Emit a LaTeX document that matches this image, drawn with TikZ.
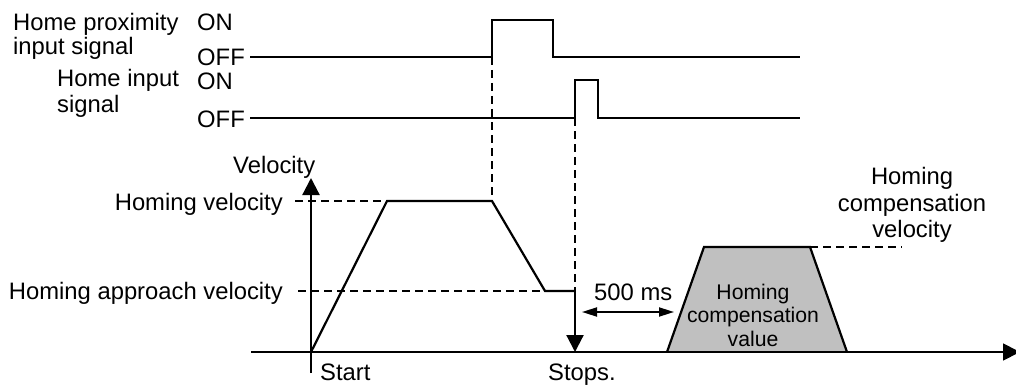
\documentclass[tikz,border=0pt]{standalone}
\usepackage{fontspec}
\setmainfont{Liberation Sans}
\usetikzlibrary{arrows.meta}
\definecolor{trapgray}{RGB}{192,192,192}
\begin{document}
\begin{tikzpicture}[x=1pt,y=-1pt,
  sig/.style={line width=2.2pt, line join=miter},
  axisline/.style={line width=1.8pt},
  guide/.style={line width=1.7pt, dash pattern=on 8pt off 5pt},
  lbl/.style={font=\fontsize{23.8}{26}\selectfont, inner sep=0pt},
  bigtip/.style={-{Triangle[width=17pt,length=17pt]}},
  smalltips/.style={{Triangle[width=9pt,length=15pt]}-{Triangle[width=9pt,length=15pt]}},
]
\useasboundingbox (0,0) rectangle (1016,385);

% signal coordinates
\coordinate (p0) at (250,57);
\coordinate (p1) at (492,57);
\coordinate (p2) at (492,20);
\coordinate (p3) at (553,20);
\coordinate (p4) at (553,57);
\coordinate (p5) at (800,57);
\coordinate (h0) at (250,118);
\coordinate (h1) at (575,118);
\coordinate (h2) at (575,80);
\coordinate (h3) at (598,80);
\coordinate (h4) at (598,118);
\coordinate (h5) at (800,118);

% velocity profile
\coordinate (o) at (311,352);
\coordinate (v1) at (387,201);
\coordinate (v2) at (492,201);
\coordinate (v3) at (545,291);
\coordinate (v4) at (575,291);
\coordinate (s) at (575,352);

% axes
\coordinate (ya0) at (311,373);
\coordinate (ya1) at (311,178);
\coordinate (xa0) at (251,352);
\coordinate (xa1) at (1020,352);

% guide ends
\coordinate (g1) at (295,201);
\coordinate (g2) at (298,291);
\coordinate (g3) at (902,247);

% trapezoid
\coordinate (t0) at (667,352);
\coordinate (t1) at (704,247);
\coordinate (t2) at (810,247);
\coordinate (t3) at (847,352);

% 500 ms arrow
\coordinate (m0) at (582,312);
\coordinate (m1) at (674,312);

\fill[trapgray] (t0) -- (t1) -- (t2) -- (t3) -- cycle;
\draw[sig] (t0) -- (t1) -- (t2) -- (t3);

\draw[guide] (p1) -- (v2);
\draw[guide] (h1) -- (v4);
\draw[guide] (g1) -- (v1);
\draw[guide] (g2) -- (v3);
\draw[guide] (t2) -- (g3);

\draw[sig] (p0) -- (p1) -- (p2) -- (p3) -- (p4) -- (p5);
\draw[sig] (h0) -- (h1) -- (h2) -- (h3) -- (h4) -- (h5);

\draw[axisline, bigtip] (xa0) -- (xa1);
\draw[sig, bigtip] (ya0) -- (ya1);

\draw[sig] (o) -- (v1) -- (v2) -- (v3) -- (v4);
\draw[sig, bigtip] (v4) -- (s);

\draw[axisline, smalltips] (m0) -- (m1);

% labels
\node[lbl, anchor=base west] (hp1) at (13,31) {Home proximity};
\node[lbl, anchor=base west] (hp2) at (13,55) {input signal};
\node[lbl, anchor=base west] (on1) at (197,31) {ON};
\node[lbl, anchor=base west] (off1) at (197,66) {OFF};
\node[lbl, anchor=base west] (hi1) at (57,87) {Home input};
\node[lbl, anchor=base west] (hi2) at (57,113) {signal};
\node[lbl, anchor=base west] (on2) at (197,90) {ON};
\node[lbl, anchor=base west] (off2) at (197,127) {OFF};
\node[lbl, anchor=base west] (vel) at (233,173) {Velocity};
\node[lbl, anchor=base east] (hv) at (283,210) {Homing velocity};
\node[lbl, anchor=base east] (hav) at (283,299) {Homing approach velocity};
\node[lbl, anchor=base west] (st) at (320,380) {Start};
\node[lbl, anchor=base west] (sp) at (548,380) {Stops.};
\node[lbl, anchor=base west] (ms) at (594,300) {500 ms};
\node[lbl, align=center, font=\fontsize{21.2}{23.5}\selectfont] (hcv) at (753,315) {Homing\\compensation\\value};
\node[lbl, align=center, font=\fontsize{23.8}{26.5}\selectfont] (hcvel) at (912,205) {Homing\\compensation\\velocity};
\end{tikzpicture}
\end{document}
